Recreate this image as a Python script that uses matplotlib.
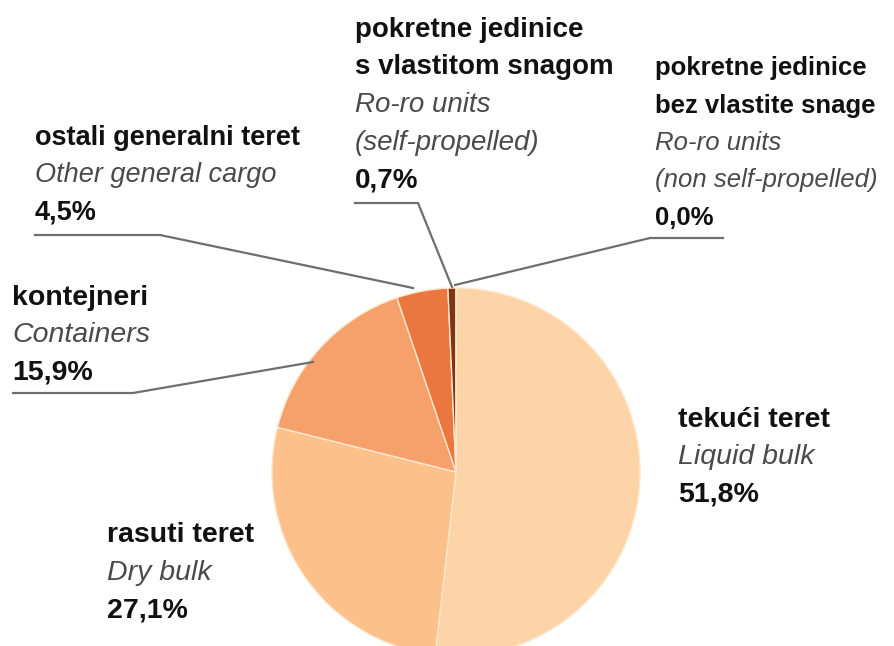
import matplotlib
matplotlib.use("Agg")
import matplotlib.pyplot as plt

# cargo shares, clockwise from the top
shares = [51.8, 27.1, 15.9, 4.5, 0.7, 0.0]
names_hr = ["tekući teret", "rasuti teret", "kontejneri", "ostali generalni teret",
            "pokretne jedinice\ns vlastitom snagom", "pokretne jedinice\nbez vlastite snage"]
names_en = ["Liquid bulk", "Dry bulk", "Containers", "Other general cargo",
            "Ro-ro units\n(self-propelled)", "Ro-ro units\n(non self-propelled)"]
pct_labels = ["51,8%", "27,1%", "15,9%", "4,5%", "0,7%", "0,0%"]
colors = ["#FDD4A8", "#FCC08A", "#F6A06C", "#EA7640", "#7C3612", "#5A2A10"]

plt.rcParams["font.family"] = ["Liberation Sans", "DejaVu Sans"]

fig = plt.figure(figsize=(8.95, 6.46), dpi=100)
ax = fig.add_axes([0, 0, 1, 1])

# y axis points down so positions read as pixels; counterclock in data = clockwise on screen
ax.pie(shares, colors=colors, center=(456, 472), radius=184, startangle=-90,
       counterclock=True, wedgeprops=dict(edgecolor="#FFE6CC", linewidth=1.0))
ax.set_xlim(0, 895)
ax.set_ylim(646, 0)
ax.set_aspect("equal")
ax.axis("off")

line_h = 37.5
# top-left anchor and font size of each label block (pixels)
anchors = [(678, 420), (107, 535), (12, 298), (35, 138), (355, 30), (655, 68)]
sizes = [20.5, 20.5, 20.5, 19.5, 20, 18.5]

for i, (x, y) in enumerate(anchors):
    fs = sizes[i]
    row = 0
    for t in names_hr[i].split("\n"):
        ax.text(x, y + row * line_h, t, fontsize=fs, fontweight="bold", color="#111111",
                va="center", ha="left")
        row += 1
    for t in names_en[i].split("\n"):
        ax.text(x, y + row * line_h, t, fontsize=fs, fontstyle="italic", color="#4A4A4A",
                va="center", ha="left")
        row += 1
    ax.text(x, y + row * line_h, pct_labels[i], fontsize=fs, fontweight="bold",
            color="#111111", va="center", ha="left")

# leader lines: underline then diagonal to the slice
leaders = [
    [(35, 235), (160, 235), (413, 288)],
    [(13, 393), (133, 393), (313, 362)],
    [(355, 203), (418, 203), (452, 287)],
    [(723, 238), (650, 238), (455, 285)],
]
for pts in leaders:
    ax.plot([p[0] for p in pts], [p[1] for p in pts], color="#6E6E6E", linewidth=1.6)

fig.savefig("out.png", dpi=100)
